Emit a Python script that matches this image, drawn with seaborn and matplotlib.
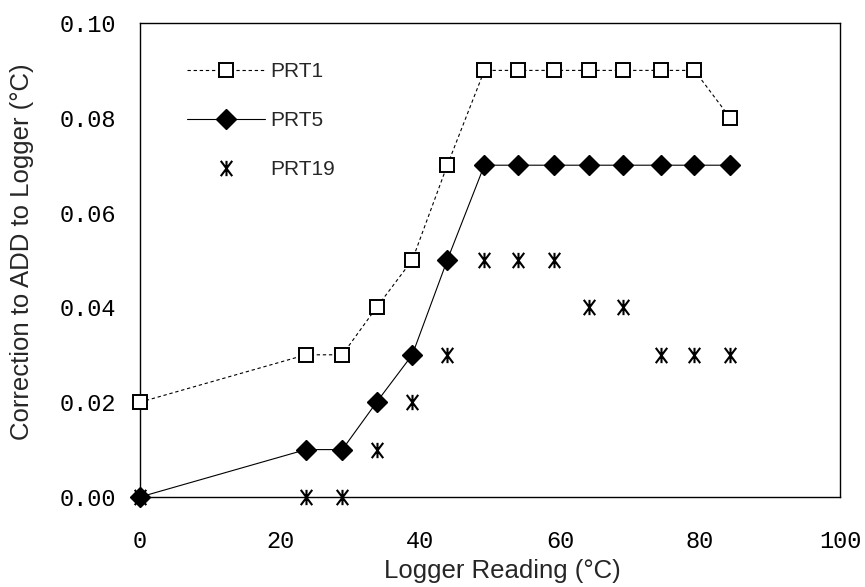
import numpy as np
import matplotlib
matplotlib.use("Agg")
import matplotlib.pyplot as plt
from matplotlib.path import Path
import seaborn as sns

# ---- data ----
x_prt1 = [0, 23.7, 28.9, 33.8, 38.9, 43.9, 49.2, 54.0, 59.2, 64.1, 69.0, 74.4, 79.2, 84.3]
y_prt1 = [0.02, 0.03, 0.03, 0.04, 0.05, 0.07, 0.09, 0.09, 0.09, 0.09, 0.09, 0.09, 0.09, 0.08]

x_prt5 = [0, 23.7, 28.9, 33.8, 38.9, 43.9, 49.2, 54.0, 59.2, 64.1, 69.0, 74.4, 79.2, 84.3]
y_prt5 = [0.00, 0.01, 0.01, 0.02, 0.03, 0.05, 0.07, 0.07, 0.07, 0.07, 0.07, 0.07, 0.07, 0.07]

x_prt19 = [0, 23.7, 28.9, 33.8, 38.9, 43.9, 49.2, 54.0, 59.2, 64.1, 69.0, 74.4, 79.2, 84.3]
y_prt19 = [0.00, 0.00, 0.00, 0.01, 0.02, 0.03, 0.05, 0.05, 0.05, 0.04, 0.04, 0.03, 0.03, 0.03]

series_names = ["PRT1", "PRT5", "PRT19"]
x_ticks = [0, 20, 40, 60, 80, 100]
y_ticks = [0.00, 0.02, 0.04, 0.06, 0.08, 0.10]

sns.set_style("white")
plt.rcParams["font.family"] = ["Liberation Sans", "DejaVu Sans"]

fig = plt.figure(figsize=(8.65, 5.87), dpi=100)
W, H = 865, 587
L, R, T, B = 140, 840, 23, 497
ax = fig.add_axes([L / W, 1 - B / H, (R - L) / W, (B - T) / H])

# custom "Ж"-like asterisk marker
star_path = Path(
    [(0, -1), (0, 1), (-0.75, -1), (0.75, 1), (-0.75, 1), (0.75, -1)],
    [Path.MOVETO, Path.LINETO, Path.MOVETO, Path.LINETO, Path.MOVETO, Path.LINETO],
)

sns.lineplot(x=x_prt1, y=y_prt1, ax=ax, color="black", linewidth=0.8,
             dashes=False, linestyle=(0, (3, 2.5)), marker="s", markersize=10.5,
             markerfacecolor="white", markeredgecolor="black", markeredgewidth=1.4,
             label=series_names[0], clip_on=False, zorder=3)
sns.lineplot(x=x_prt5, y=y_prt5, ax=ax, color="black", linewidth=0.8,
             marker="D", markersize=10, markerfacecolor="black",
             markeredgecolor="black", markeredgewidth=1.0,
             label=series_names[1], clip_on=False, zorder=3)
sns.lineplot(x=x_prt19, y=y_prt19, ax=ax, color="black", linestyle="",
             marker=star_path, markersize=11, markerfacecolor="none",
             markeredgecolor="black", markeredgewidth=1.5,
             label=series_names[2], clip_on=False, zorder=4)

ax.set_xlim(0, 100)
ax.set_ylim(0, 0.10)
ax.set_xticks(x_ticks)
ax.set_yticks(y_ticks)
ax.set_xticklabels([str(v) for v in x_ticks], fontfamily="Liberation Mono", fontsize=17)
ax.set_yticklabels([f"{v:.2f}" for v in y_ticks], fontfamily="Liberation Mono", fontsize=17)
ax.tick_params(axis="x", direction="in", length=5, width=0.8, pad=24, colors="black")
ax.tick_params(axis="y", direction="in", length=5, width=0.8, pad=17, colors="black")

for s in ax.spines.values():
    s.set_visible(True)
    s.set_color("black")
    s.set_linewidth(1.0)

ax.set_xlabel("Logger Reading (°C)", fontsize=18.5)
ax.set_ylabel("Correction to ADD to Logger (°C)", fontsize=18.5)
ax.xaxis.set_label_coords((502 - L) / (R - L), -(571 - B) / (B - T))
ax.xaxis.label.set_va("center")
ax.yaxis.set_label_coords(-(L - 22) / (R - L), (B - 252) / (B - T))
ax.yaxis.label.set_va("center")

handles, labels = ax.get_legend_handles_labels()
if ax.get_legend() is not None:
    ax.get_legend().remove()
leg = ax.legend(handles, labels, loc="upper left",
                bbox_to_anchor=((187 - L) / (R - L), (B - 62) / (B - T)),
                frameon=False, fontsize=15, handlelength=3.75, handletextpad=0.25,
                labelspacing=1.45, borderpad=0, borderaxespad=0, numpoints=1)

fig.savefig("out.png", dpi=100, facecolor="white")
